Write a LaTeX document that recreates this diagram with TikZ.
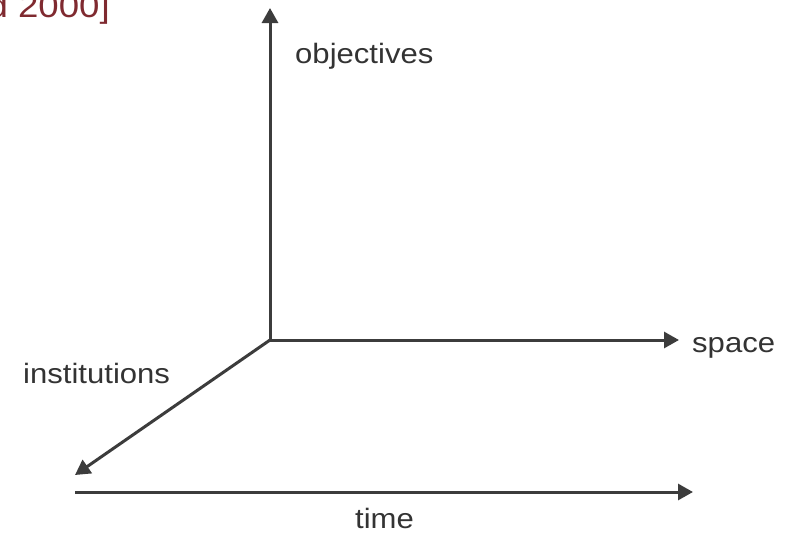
\documentclass[tikz,border=0pt]{standalone}
\usepackage{fontspec}
\setmainfont{Liberation Sans}[FakeStretch=1.11]
\usetikzlibrary{arrows.meta}
\definecolor{axisgray}{HTML}{3C3C3C}
\definecolor{labelgray}{HTML}{333333}
\definecolor{citered}{HTML}{7F2A30}
\begin{document}
\begin{tikzpicture}[x=1pt,y=-1pt,
  axis/.style={draw=axisgray, line width=3pt,
    -{Triangle[length=15pt,width=16pt]}},
  axislabel/.style={anchor=base west, inner sep=0pt, text=labelgray,
    font=\fontsize{28}{32}\selectfont},
  cite/.style={anchor=base east, inner sep=0pt, text=citered,
    font=\fontsize{33}{38}\selectfont}]
  \useasboundingbox (0,0) rectangle (790,533);
  \clip (0,0) rectangle (790,533);
  % axis end points
  \coordinate (O) at (270,340);
  \coordinate (up) at (270,8);
  \coordinate (right) at (679,340);
  \coordinate (diag) at (75,475);
  \coordinate (t0) at (75,492);
  \coordinate (t1) at (693,492);
  % axes
  \draw[axis] (O) -- (up);
  \draw[axis] (O) -- (right);
  \draw[axis] (O) -- (diag);
  \draw[axis] (t0) -- (t1);
  % labels
  \node[axislabel] (obj) at (295,63) {objectives};
  \node[axislabel] (spc) at (692,352) {space};
  \node[axislabel] (ins) at (23,383) {institutions};
  \node[axislabel] (tim) at (355,528) {time};
  \node[cite] (src) at (110,17) {d 2000]};
\end{tikzpicture}
\end{document}
